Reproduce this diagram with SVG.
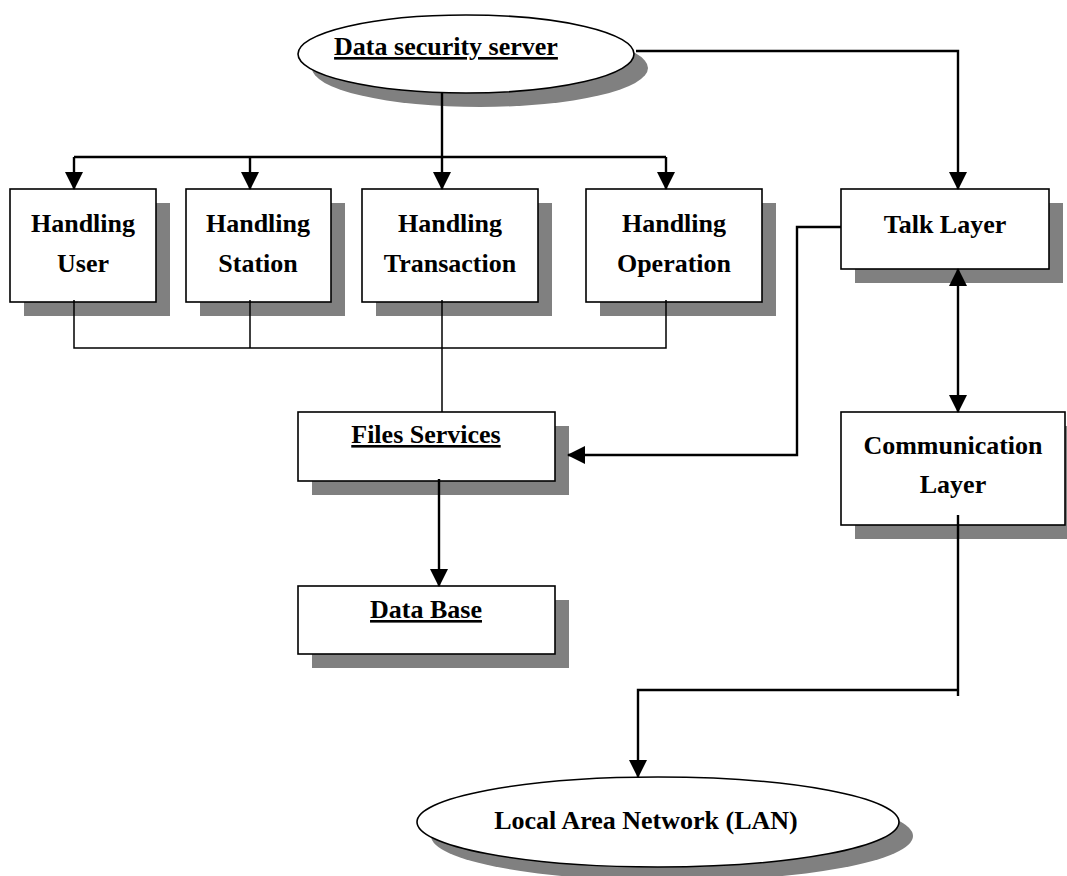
<svg xmlns="http://www.w3.org/2000/svg" width="1067" height="876" viewBox="0 0 1067 876">
<style>
.box{fill:#fff;stroke:#000;stroke-width:1.6}
.shadow{fill:#808080;stroke:none}
.t{font-family:"Liberation Serif","Times New Roman",serif;font-weight:bold;font-size:26px;fill:#000;text-anchor:middle}
.u{text-decoration:underline}
.thick{fill:none;stroke:#000;stroke-width:2.4}
.thin{fill:none;stroke:#000;stroke-width:1.5}
</style>
<defs>
<marker id="arr" markerUnits="userSpaceOnUse" markerWidth="18" markerHeight="18" viewBox="0 0 18 18" refX="17" refY="9" orient="auto-start-reverse">
<path d="M0,0 L18,9 L0,18 z" fill="#000"/>
</marker>
</defs>
<rect width="1067" height="876" fill="#fff"/>

<g id="data-security-server">
<ellipse class="shadow" cx="480" cy="68" rx="168" ry="39"/>
<ellipse class="box" cx="466" cy="54" rx="168" ry="39"/>
<text class="t u" x="446" y="55">Data security server</text>
</g>

<g id="handling-user">
<rect class="shadow" x="24" y="203" width="146" height="113"/>
<rect class="box" x="10" y="189" width="146" height="113"/>
<text class="t" x="83" y="232">Handling</text>
<text class="t" x="83" y="272">User</text>
</g>

<g id="handling-station">
<rect class="shadow" x="200" y="203" width="145" height="113"/>
<rect class="box" x="186" y="189" width="145" height="113"/>
<text class="t" x="258" y="232">Handling</text>
<text class="t" x="258" y="272">Station</text>
</g>

<g id="handling-transaction">
<rect class="shadow" x="376" y="203" width="176" height="113"/>
<rect class="box" x="362" y="189" width="176" height="113"/>
<text class="t" x="450" y="232">Handling</text>
<text class="t" x="450" y="272">Transaction</text>
</g>

<g id="handling-operation">
<rect class="shadow" x="600" y="203" width="176" height="113"/>
<rect class="box" x="586" y="189" width="176" height="113"/>
<text class="t" x="674" y="232">Handling</text>
<text class="t" x="674" y="272">Operation</text>
</g>

<g id="talk-layer">
<rect class="shadow" x="855" y="203" width="208" height="80"/>
<rect class="box" x="841" y="189" width="208" height="80"/>
<text class="t" x="945" y="233">Talk Layer</text>
</g>

<g id="files-services">
<rect class="shadow" x="312" y="426" width="257" height="69"/>
<rect class="box" x="298" y="412" width="257" height="69"/>
<text class="t u" x="426" y="443">Files Services</text>
</g>

<g id="data-base">
<rect class="shadow" x="312" y="600" width="257" height="68"/>
<rect class="box" x="298" y="586" width="257" height="68"/>
<text class="t u" x="426" y="618">Data Base</text>
</g>

<g id="communication-layer">
<rect class="shadow" x="855" y="426" width="224" height="113"/>
<rect class="box" x="841" y="412" width="224" height="113"/>
<text class="t" x="953" y="454">Communication</text>
<text class="t" x="953" y="493">Layer</text>
</g>

<g id="lan">
<ellipse class="shadow" cx="672" cy="836" rx="241" ry="45"/>
<ellipse class="box" cx="658" cy="822" rx="241" ry="45"/>
<text class="t" x="646" y="829">Local Area Network (LAN)</text>
</g>

<g id="connectors">
<path class="thick" d="M442,93 V189" marker-end="url(#arr)"/>
<path class="thick" d="M74,157 H666"/>
<path class="thick" d="M74,157 V189" marker-end="url(#arr)"/>
<path class="thick" d="M250,157 V189" marker-end="url(#arr)"/>
<path class="thick" d="M666,157 V189" marker-end="url(#arr)"/>
<path class="thin" d="M74,300 V348 H666 V300"/>
<path class="thin" d="M250,300 V348"/>
<path class="thin" d="M442,300 V412"/>
<path class="thick" d="M636,51 H958 V189" marker-end="url(#arr)"/>
<path class="thick" d="M958,269 V412" marker-start="url(#arr)" marker-end="url(#arr)"/>
<path class="thick" d="M841,227 H797 V455 H568" marker-end="url(#arr)"/>
<path class="thick" d="M439,479 V586" marker-end="url(#arr)"/>
<path class="thick" d="M958,515 V696"/>
<path class="thick" d="M958,690 H638 V777" marker-end="url(#arr)"/>
</g>
</svg>
